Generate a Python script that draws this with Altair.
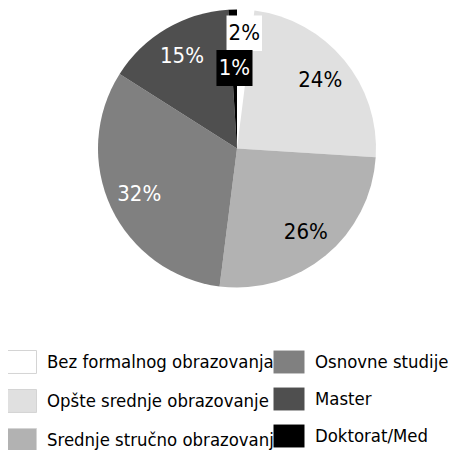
import altair as alt
import pandas as pd

categories = ["Bez formalnog obrazovanja", "Opšte srednje obrazovanje", "Srednje stručno obrazovanje",
              "Osnovne studije", "Master", "Doktorat/Med"]
values = [2, 24, 26, 32, 15, 1]
colors = ["#ffffff", "#e0e0e0", "#b2b2b2", "#808080", "#4f4f4f", "#000000"]

df = pd.DataFrame({"cat": categories, "pct": values, "ord": list(range(len(categories)))})
df["label"] = [f"{v}%" for v in values]

FONT = "DejaVu Sans Condensed"
CX, CY, R = 229, 140.5, 139

base = alt.Chart(df).transform_window(
    cum="sum(pct)", sort=[alt.SortField("ord")], frame=[None, 0]
).transform_joinaggregate(total="sum(pct)").transform_calculate(
    t0="(datum.cum - datum.pct)/datum.total*2*PI",
    t1="datum.cum/datum.total*2*PI",
    mid="(datum.cum - datum.pct/2)/datum.total*2*PI",
)


def legend(x, stroke):
    return alt.Legend(
        title=None, orient="none", legendX=x, legendY=338,
        symbolType="M-1,-0.74L1,-0.74L1,0.74L-1,0.74Z", symbolSize=961,
        symbolStrokeColor=stroke, symbolStrokeWidth=1, symbolOpacity=1,
        labelFont=FONT, labelFontSize=18.4, labelColor="#000000",
        labelOffset=10, rowPadding=9, labelLimit=400, padding=0)


pieA = base.transform_filter("datum.ord < 3").mark_arc(outerRadius=R).encode(
    theta=alt.Theta("t0:Q", scale=None), theta2="t1:Q",
    x=alt.value(CX), y=alt.value(CY),
    color=alt.Color("cat:N", scale=alt.Scale(domain=categories[:3], range=colors[:3]),
                    legend=legend(-3, "#d4d4d4")),
)
pieB = base.transform_filter("datum.ord >= 3").mark_arc(outerRadius=R).encode(
    theta=alt.Theta("t0:Q", scale=None), theta2="t1:Q",
    x=alt.value(CX), y=alt.value(CY),
    color=alt.Color("cat:N", scale=alt.Scale(domain=categories[3:], range=colors[3:]),
                    legend=legend(265, None)),
)


def placed(r, cond):
    return base.transform_filter(cond).transform_calculate(
        px=f"{CX} + {r}*sin(datum.mid)", py=f"{CY} - {r}*cos(datum.mid)"
    )


dark = "datum.ord >= 3"
main_txt = placed(108, "datum.pct >= 3").mark_text(font=FONT, fontSize=22, baseline="middle", align="center").encode(
    x=alt.X("px:Q", scale=None), y=alt.Y("py:Q", scale=None), text="label:N",
    color=alt.condition(dark, alt.value("white"), alt.value("black")),
)

small2 = placed(115.5, "datum.ord == 0")
small1 = placed(80.5, "datum.ord == 5")

box2 = small2.mark_square(size=1260, opacity=1, fill="white").encode(
    x=alt.X("px:Q", scale=None), y=alt.Y("py:Q", scale=None))
box1 = small1.mark_square(size=1300, opacity=1, fill="black").encode(
    x=alt.X("px:Q", scale=None), y=alt.Y("py:Q", scale=None))
txt2 = small2.mark_text(font=FONT, fontSize=22, baseline="middle", align="center", color="black").encode(
    x=alt.X("px:Q", scale=None), y=alt.Y("py:Q", scale=None), text="label:N")
txt1 = small1.mark_text(font=FONT, fontSize=22, baseline="middle", align="center", color="white").encode(
    x=alt.X("px:Q", scale=None), y=alt.Y("py:Q", scale=None), text="label:N")

chart = alt.layer(pieA, pieB, main_txt, box2, txt2, box1, txt1).resolve_scale(
    color="independent"
).properties(
    width=440, height=442, padding=0, autosize="none"
).configure_view(stroke=None)

chart.save("out.html", embed_options={"renderer": "svg", "actions": False})
